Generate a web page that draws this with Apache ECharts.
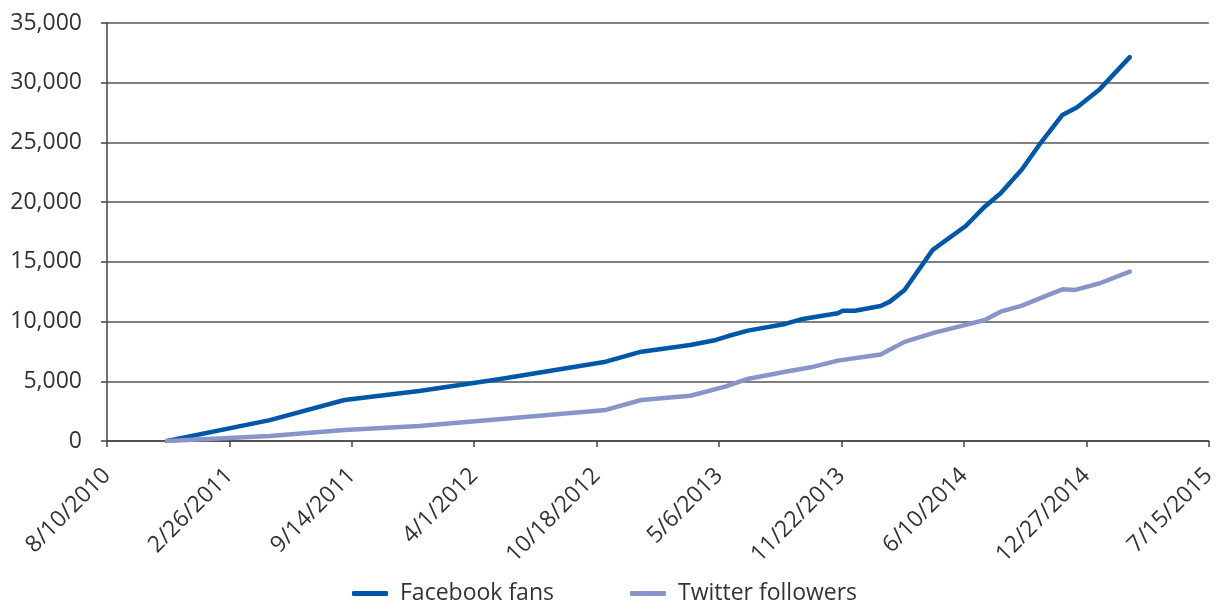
<!DOCTYPE html>
<html>
<head>
<meta charset="utf-8">
<script src="https://cdn.jsdelivr.net/npm/echarts@6/dist/echarts.min.js"></script>
<style>
html,body{margin:0;padding:0;background:#fff;}
#chart{width:1219px;height:606px;}
</style>
</head>
<body>
<div id="chart"></div>
<script>
// ---- data ----
const startDate = '2010-08-10';
const xTickLabels = ['8/10/2010','2/26/2011','9/14/2011','4/1/2012','10/18/2012','5/6/2013','11/22/2013','6/10/2014','12/27/2014','7/15/2015'];
const yTickLabels = ['0','5,000','10,000','15,000','20,000','25,000','30,000','35,000'];

const fbDates = ['2010-11-16','2011-05-03','2011-09-02','2012-01-02','2012-05-11','2012-11-02','2012-12-30','2013-03-20','2013-05-01','2013-05-21','2013-06-22','2013-08-22','2013-09-17','2013-11-16','2013-11-24','2013-12-14','2014-01-25','2014-02-09','2014-03-05','2014-04-20','2014-06-13','2014-07-14','2014-08-09','2014-09-13','2014-10-11','2014-11-18','2014-12-12','2015-01-18','2015-03-08'];
const fbValues = [0,1750,3430,4190,5170,6640,7480,8040,8460,8790,9240,9800,10190,10700,10910,10910,11300,11670,12650,16000,18000,19620,20750,22760,24790,27300,27950,29460,32140];

const twDates = ['2010-11-16','2011-05-03','2011-09-02','2012-01-02','2012-05-11','2012-11-02','2012-12-30','2013-03-20','2013-05-16','2013-06-19','2013-08-22','2013-10-03','2013-11-16','2014-01-25','2014-03-05','2014-04-23','2014-06-13','2014-07-14','2014-08-09','2014-09-13','2014-10-19','2014-11-18','2014-12-09','2015-01-18','2015-03-08'];
const twValues = [0,420,920,1260,1820,2600,3430,3790,4550,5170,5800,6170,6730,7250,8300,9070,9720,10130,10830,11330,12090,12700,12650,13210,14180];

// ---- build ----
const DAY = 86400000;
const base = Date.parse(startDate);
const toDay = d => (Date.parse(d) - base) / DAY;
const fbData = fbDates.map((d, i) => [toDay(d), fbValues[i]]);
const twData = twDates.map((d, i) => [toDay(d), twValues[i]]);

const FONT = '"Open Sans", "Noto Sans", sans-serif';
const chart = echarts.init(document.getElementById('chart'), null, {renderer: 'canvas'});
chart.setOption({
  animation: false,
  backgroundColor: '#fff',
  grid: {left: 107, right: 7, top: 23, bottom: 165, containLabel: false},
  legend: {
    top: 577,
    left: 347,
    itemWidth: 36,
    itemHeight: 5,
    itemGap: 76,
    icon: 'roundRect',
    textStyle: {fontFamily: FONT, fontSize: 23, color: '#333', padding: [0, 0, 0, 7]},
    data: ['Facebook fans', 'Twitter followers']
  },
  xAxis: {
    type: 'value',
    min: 0, max: 1800, interval: 200,
    axisLine: {show: true, lineStyle: {color: '#444', width: 1.5}},
    axisTick: {show: true, length: 6, lineStyle: {color: '#444', width: 1.5}},
    splitLine: {show: false},
    axisLabel: {
      rotate: 45, margin: 31,
      fontFamily: FONT, fontSize: 23, color: '#333',
      formatter: v => xTickLabels[Math.round(v / 200)] || ''
    }
  },
  yAxis: {
    type: 'value',
    min: 0, max: 35000, interval: 5000,
    axisLine: {show: true, lineStyle: {color: '#444', width: 1.5}},
    axisTick: {show: true, length: 6, lineStyle: {color: '#444', width: 1.5}},
    splitLine: {show: true, lineStyle: {color: '#555', width: 1.5}},
    axisLabel: {
      margin: 25,
      fontFamily: FONT, fontSize: 23, color: '#333',
      formatter: v => yTickLabels[Math.round(v / 5000)] || ''
    }
  },
  series: [
    {
      name: 'Facebook fans', type: 'line', data: fbData,
      showSymbol: false, symbol: 'none',
      lineStyle: {color: '#0057A8', width: 4.5, cap: 'round', join: 'round'},
      itemStyle: {color: '#0057A8'}
    },
    {
      name: 'Twitter followers', type: 'line', data: twData,
      showSymbol: false, symbol: 'none',
      lineStyle: {color: '#8795CB', width: 4.5, cap: 'round', join: 'round'},
      itemStyle: {color: '#8795CB'}
    }
  ]
});
</script>
</body>
</html>
